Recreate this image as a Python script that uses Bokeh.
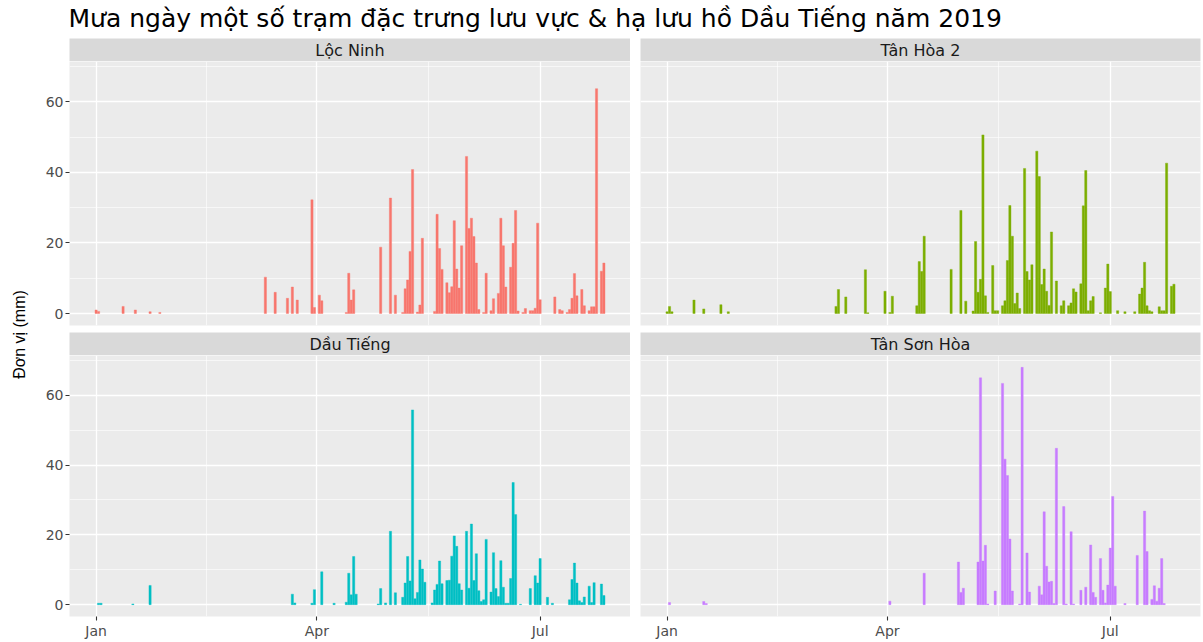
import numpy as np
import pandas as pd
from bokeh.plotting import figure
from bokeh.layouts import row, column
from bokeh.models import ColumnDataSource, Range1d, FixedTicker, DatetimeTickFormatter
from bokeh.core.properties import value
from bokeh.embed import file_html
from bokeh.resources import INLINE

# ---------------- data ----------------
TITLE = "Mưa ngày một số trạm đặc trưng lưu vực & hạ lưu hồ Dầu Tiếng năm 2019"
Y_LABEL = "Đơn vị (mm)"
YEAR_START = "2019-01-01"

stations = ["Lộc Ninh", "Tân Hòa 2", "Dầu Tiếng", "Tân Sơn Hòa"]
colors = ["#F8766D", "#7CAE00", "#00BFC4", "#C77CFF"]

# day offsets from 1 Jan 2019, daily rain (mm)
loc_ninh_day = [0, 1, 11, 16, 22, 26, 69, 73, 78, 80, 82, 88, 89, 91, 92,
                102, 103, 104, 105, 116, 120, 122, 125, 126, 127, 128, 129,
                131, 132, 133, 138, 139, 140, 141, 143, 144, 145, 146, 147,
                148, 149, 151, 152, 153, 154, 155, 156, 158, 159, 161, 162,
                164, 165, 166, 167, 169, 170, 171, 172, 174, 175, 177, 178,
                179, 180, 181, 187, 189, 190, 192, 193, 194, 195, 196, 198,
                199, 201, 202, 203, 204, 206, 207]
loc_ninh_mm = [1.0, 0.6, 2.0, 1.0, 0.5, 0.3, 10.3, 6.0, 4.3, 7.5, 3.8, 32.2, 1.7, 5.2, 3.6,
               0.3, 11.4, 3.8, 6.7, 18.8, 32.7, 5.2, 0.3, 7.0, 9.5, 17.6, 40.8,
               0.4, 2.4, 21.3, 0.6, 28.1, 18.4, 12.5, 8.7, 5.9, 7.6, 26.3, 12.6,
               7.2, 19.2, 44.5, 24.1, 27.0, 21.8, 14.3, 1.1, 0.3, 11.4, 0.8, 4.2,
               5.7, 27.0, 19.2, 7.5, 13.1, 19.9, 29.2, 0.7, 0.3, 1.4, 0.8, 0.8,
               1.5, 25.6, 3.9, 4.7, 1.1, 0.8, 0.3, 1.1, 4.3, 11.3, 5.0, 6.8,
               2.2, 0.8, 1.9, 1.9, 63.7, 12.0, 14.3]

tan_hoa_day = [0, 1, 2, 11, 15, 22, 25, 69, 70, 73, 81, 82, 89, 91, 92,
               102, 103, 104, 105, 116, 120, 122, 125, 126, 127, 128, 129, 130, 131,
               133, 134, 135, 137, 138, 139, 140, 141, 142, 143, 144,
               146, 147, 148, 149, 151, 152, 153, 154, 155, 156, 157, 159,
               161, 162, 164, 165, 166, 167, 169, 170, 171, 172, 173, 174,
               177, 179, 180, 181, 184, 187, 191, 193, 194, 195, 196, 197, 198,
               201, 202, 203, 204, 206, 207]
tan_hoa_mm = [0.5, 2.0, 0.5, 3.8, 1.3, 2.5, 0.5, 2.0, 6.8, 4.7, 12.4, 0.2, 6.3, 0.3, 4.9,
              2.2, 14.7, 11.9, 21.9, 12.5, 29.2, 3.5, 0.7, 20.4, 6.0, 9.7, 50.6, 5.0, 0.3,
              13.6, 0.8, 0.8, 2.2, 3.6, 15.0, 30.6, 21.9, 2.8, 5.8, 1.4,
              41.1, 11.9, 9.5, 13.8, 46.0, 38.8, 8.2, 12.6, 6.3, 2.3, 23.1, 9.2,
              2.2, 3.6, 2.2, 3.0, 7.0, 6.1, 8.4, 30.5, 40.5, 0.8, 3.6, 4.8,
              0.2, 7.2, 14.0, 6.2, 0.8, 0.5, 0.5, 5.5, 7.2, 14.5, 2.2, 0.8, 0.5,
              1.9, 0.8, 0.8, 42.6, 7.7, 8.3]

dau_tieng_day = [1, 2, 15, 22, 80, 81, 88, 89, 92, 97, 102, 103, 104, 105, 106,
                 115, 116, 118, 120, 122, 125, 126, 127, 128, 129, 130, 131, 132, 133, 134,
                 137, 138, 139, 140, 141, 143, 144, 145, 146, 147, 148, 149,
                 151, 152, 153, 154, 155, 156, 157, 158, 159,
                 161, 162, 163, 164, 165, 166, 167, 168, 169, 170, 171,
                 173, 177, 179, 180, 181, 184, 186,
                 193, 194, 195, 196, 197, 198, 199, 201, 202, 203, 206, 207]
dau_tieng_mm = [0.4, 0.4, 0.2, 5.5, 3.0, 0.5, 0.4, 4.3, 9.4, 0.4, 0.7, 9.0, 2.8, 13.8, 3.0,
                0.2, 4.6, 0.5, 21.0, 3.4, 2.1, 6.2, 13.8, 6.8, 55.8, 1.7, 3.5, 12.8, 10.2, 6.4,
                0.5, 4.2, 5.8, 12.5, 6.0, 6.9, 7.0, 13.9, 19.7, 16.7, 6.0, 4.2,
                21.0, 4.7, 23.1, 6.9, 14.6, 4.0, 0.9, 1.4, 18.7,
                3.6, 14.9, 4.6, 2.3, 12.6, 5.0, 0.4, 0.4, 7.5, 35.0, 25.8,
                0.1, 4.6, 8.3, 6.2, 13.2, 2.1, 0.4,
                1.4, 7.2, 11.9, 6.2, 1.1, 0.6, 2.2, 5.3, 0.6, 6.3, 5.9, 2.6]

tan_son_hoa_day = [1, 15, 16, 91, 105, 119, 120, 121, 127, 128, 129, 130, 131, 134,
                   137, 138, 139, 140, 141, 144, 145, 147, 148,
                   152, 153, 154, 155, 156, 157, 158, 159, 162, 163, 165, 166,
                   169, 171, 173, 174, 175, 177, 178, 179, 180, 181, 182, 183,
                   187, 192, 195, 196, 198, 199, 200, 201, 202, 203]
tan_son_hoa_mm = [0.6, 0.9, 0.3, 1.0, 9.0, 12.2, 3.5, 4.7, 12.2, 65.0, 12.5, 17.0, 0.2, 3.9,
                  63.4, 41.7, 37.0, 18.8, 3.9, 0.2, 68.0, 14.8, 3.6,
                  5.3, 2.8, 26.6, 11.0, 6.5, 6.7, 0.3, 44.8, 28.1, 0.2, 20.9, 0.2,
                  4.1, 5.0, 17.1, 3.5, 2.1, 13.2, 4.1, 0.5, 5.6, 16.2, 31.0, 5.3,
                  0.3, 14.1, 26.8, 15.2, 1.5, 5.4, 1.0, 4.7, 13.2, 0.3]

series_days = [loc_ninh_day, tan_hoa_day, dau_tieng_day, tan_son_hoa_day]
series_mm = [loc_ninh_mm, tan_hoa_mm, dau_tieng_mm, tan_son_hoa_mm]

x_tick_dates = ["2019-01-01", "2019-04-01", "2019-07-01"]
x_minor_dates = ["2019-02-15 00:00", "2019-05-16 12:00"]
y_ticks = [0, 20, 40, 60]
y_minor_ticks = [10, 30, 50, 70]

# ---------------- helpers ----------------
DAY_MS = 86400000.0
t0 = pd.Timestamp(YEAR_START)


def to_ms(s):
    return pd.Timestamp(s).value / 1e6


all_days = [d for ds in series_days for d in ds]
dmin, dmax = min(all_days), max(all_days)
span = (dmax - dmin) + 0.9
x_start = to_ms(YEAR_START) + (dmin - 0.45 - 0.05 * span) * DAY_MS
x_end = to_ms(YEAR_START) + (dmax + 0.45 + 0.05 * span) * DAY_MS
ymax = max(max(v) for v in series_mm)
x_range = Range1d(x_start, x_end)
y_range = Range1d(-0.05 * ymax, ymax * 1.05)

x_major = [to_ms(s) for s in x_tick_dates]
x_minor = [to_ms(s) for s in x_minor_dates]

FONT = "DejaVu Sans"
BG = "#EBEBEB"

# geometry (pixels)
YLAB_W = 38
LEFT_BORDER = 31
FRAME_W_L = 561
GAP = 10
FRAME_W_R = 560
RIGHT_PAD = 2
STRIP_H = 23
FRAME_H = 264
ROW_GAP = 7
X_AXIS_H = 22
TITLE_H = 38


def make_strip(name, left_border, frame_w, right_border):
    s = figure(width=left_border + frame_w + right_border, height=STRIP_H,
               x_range=Range1d(0, 1), y_range=Range1d(0, 1),
               x_axis_location=None, y_axis_location=None,
               min_border_left=left_border, min_border_right=right_border,
               min_border_top=0, min_border_bottom=0,
               background_fill_color="#D9D9D9", border_fill_color="white",
               outline_line_color=None, toolbar_location=None,
               output_backend="svg", title=None)
    s.grid.visible = False
    s.text(x=[0.5], y=[0.47], text=[name], text_align="center",
           text_baseline="middle", text_font=value(FONT),
           text_font_size="16px", text_color="#1A1A1A")
    return s


def make_panel(i, left_border, frame_w, right_border, show_x, show_y):
    bottom = X_AXIS_H if show_x else ROW_GAP
    p = figure(width=left_border + frame_w + right_border,
               height=FRAME_H + bottom,
               x_axis_type="datetime", x_range=x_range, y_range=y_range,
               x_axis_location="below" if show_x else None,
               y_axis_location="left" if show_y else None,
               min_border_left=left_border, min_border_right=right_border,
               min_border_top=0, min_border_bottom=bottom,
               background_fill_color=BG, border_fill_color="white",
               outline_line_color=None, toolbar_location=None,
               output_backend="svg", title=None)
    xt = FixedTicker(ticks=x_major, minor_ticks=x_minor)
    yt = FixedTicker(ticks=y_ticks, minor_ticks=y_minor_ticks)
    p.xgrid.ticker = xt
    p.ygrid.ticker = yt
    for g in (p.xgrid, p.ygrid):
        g.grid_line_color = "white"
        g.grid_line_width = 1.3
        g.minor_grid_line_color = "white"
        g.minor_grid_line_width = 0.6
    if show_x:
        ax = p.xaxis[0]
        ax.ticker = xt
        fmt = "%b"
        ax.formatter = DatetimeTickFormatter(
            years=fmt, months=fmt, days=fmt, hours=fmt, hourmin=fmt,
            minutes=fmt, minsec=fmt, seconds=fmt, milliseconds=fmt,
            microseconds=fmt)
    if show_y:
        ax = p.yaxis[0]
        ax.ticker = yt
    for ax in list(p.xaxis) + list(p.yaxis):
        ax.axis_line_color = None
        ax.major_tick_line_color = "#333333"
        ax.major_tick_line_width = 1.1
        ax.major_tick_out = 4
        ax.major_tick_in = 0
        ax.minor_tick_line_color = None
        ax.major_label_standoff = 2
        ax.major_label_text_font = FONT
        ax.major_label_text_font_size = "14px"
        ax.major_label_text_color = "#4D4D4D"

    dates = t0 + pd.to_timedelta(series_days[i], unit="D")
    src = ColumnDataSource(dict(date=dates, mm=series_mm[i]))
    p.vbar(x="date", top="mm", bottom=0, width=0.9 * DAY_MS, source=src,
           fill_color=colors[i], line_color=colors[i], line_width=0.4)
    return p


# ---------------- build ----------------
strip1 = make_strip(stations[0], LEFT_BORDER, FRAME_W_L, 0)
strip2 = make_strip(stations[1], GAP, FRAME_W_R, RIGHT_PAD)
strip3 = make_strip(stations[2], LEFT_BORDER, FRAME_W_L, 0)
strip4 = make_strip(stations[3], GAP, FRAME_W_R, RIGHT_PAD)

p1 = make_panel(0, LEFT_BORDER, FRAME_W_L, 0, show_x=False, show_y=True)
p2 = make_panel(1, GAP, FRAME_W_R, RIGHT_PAD, show_x=False, show_y=False)
p3 = make_panel(2, LEFT_BORDER, FRAME_W_L, 0, show_x=True, show_y=True)
p4 = make_panel(3, GAP, FRAME_W_R, RIGHT_PAD, show_x=True, show_y=False)

grid_h = STRIP_H * 2 + FRAME_H * 2 + ROW_GAP + X_AXIS_H
total_w = YLAB_W + LEFT_BORDER + FRAME_W_L + GAP + FRAME_W_R + RIGHT_PAD

ylab = figure(width=YLAB_W, height=grid_h,
              x_range=Range1d(0, YLAB_W), y_range=Range1d(0, grid_h),
              x_axis_location=None, y_axis_location=None,
              min_border=0, background_fill_color="white",
              border_fill_color="white", outline_line_color=None,
              toolbar_location=None, output_backend="svg", title=None)
ylab.grid.visible = False
ylab.text(x=[19], y=[grid_h - 296], text=[Y_LABEL], angle=np.pi / 2,
          text_align="center", text_baseline="middle",
          text_font=value("Liberation Sans"), text_font_size="16px",
          text_color="black")

title_fig = figure(width=total_w, height=TITLE_H,
                   x_range=Range1d(0, total_w), y_range=Range1d(0, TITLE_H),
                   x_axis_location=None, y_axis_location=None,
                   min_border=0, background_fill_color="white",
                   border_fill_color="white", outline_line_color=None,
                   toolbar_location=None, output_backend="svg", title=None)
title_fig.grid.visible = False
title_fig.text(x=[YLAB_W + LEFT_BORDER - 1], y=[TITLE_H / 2 + 1], text=[TITLE],
               text_align="left", text_baseline="middle",
               text_font=value(FONT), text_font_size="25px",
               text_color="black")

layout = column(
    title_fig,
    row(ylab,
        column(strip1, p1, strip3, p3),
        column(strip2, p2, strip4, p4)),
)

open("out.html", "w").write(file_html(layout, INLINE))
